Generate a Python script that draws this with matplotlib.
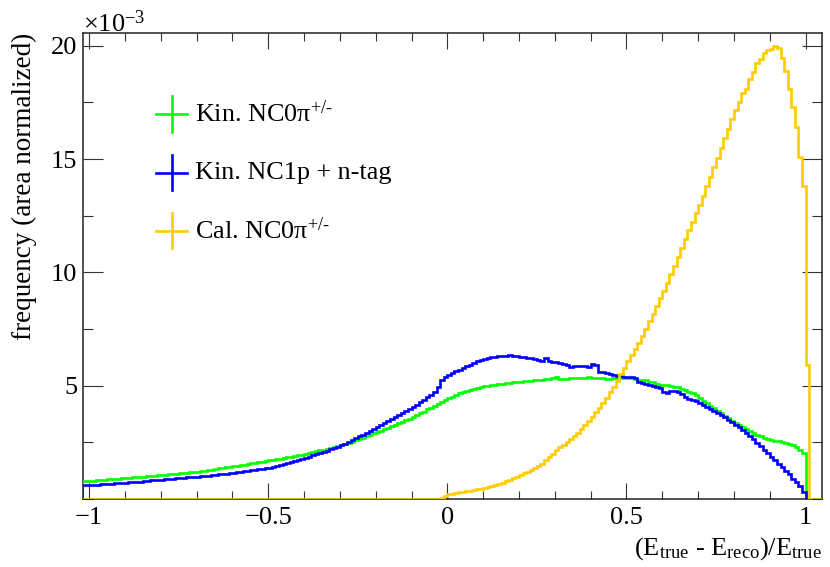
import numpy as np
import matplotlib
matplotlib.use("Agg")
import matplotlib.pyplot as plt
from matplotlib.ticker import MultipleLocator

plt.rcParams['font.family'] = ['Liberation Serif', 'DejaVu Serif']
plt.rcParams['mathtext.fontset'] = 'custom'
plt.rcParams['mathtext.rm'] = 'Liberation Serif'
plt.rcParams['mathtext.it'] = 'Liberation Serif:italic'
plt.rcParams['mathtext.bf'] = 'Liberation Serif:bold'

# bin edges: -1.02 .. 1.05, width 0.01
edges = np.round(np.arange(-1.02, 1.0501, 0.01), 2)

# values in units of 1e-3 (area normalized)
kin_nc0pi = [
    0.79, 0.80,
    0.80, 0.81, 0.82, 0.84, 0.84, 0.86, 0.87, 0.88, 0.90, 0.91,
    0.92, 0.93, 0.95, 0.96, 0.97, 0.99, 1.00, 1.02, 1.03, 1.04,
    1.05, 1.07, 1.08, 1.10, 1.12, 1.13, 1.14, 1.16, 1.17, 1.19,
    1.21, 1.23, 1.25, 1.28, 1.30, 1.33, 1.35, 1.37, 1.40, 1.43,
    1.45, 1.47, 1.50, 1.52, 1.55, 1.57, 1.60, 1.62, 1.65, 1.68,
    1.70, 1.73, 1.75, 1.78, 1.81, 1.84, 1.87, 1.90, 1.93, 1.96,
    1.99, 2.02, 2.06, 2.10, 2.14, 2.17, 2.21, 2.25, 2.29, 2.33,
    2.37, 2.42, 2.47, 2.53, 2.59, 2.65, 2.71, 2.77, 2.83, 2.89,
    2.95, 3.01, 3.08, 3.14, 3.21, 3.27, 3.34, 3.41, 3.48, 3.55,
    3.62, 3.70, 3.78, 3.86, 3.95, 4.03, 4.11, 4.19, 4.27, 4.35,
    4.45, 4.52, 4.59, 4.66, 4.72, 4.77, 4.82, 4.87, 4.91, 4.95,
    4.98, 5.00, 5.03, 5.05, 5.07, 5.09, 5.11, 5.13, 5.14, 5.16,
    5.18, 5.19, 5.21, 5.22, 5.23, 5.25, 5.27, 5.30, 5.31, 5.33,
    5.38, 5.29, 5.28, 5.31, 5.33, 5.33, 5.36, 5.32, 5.35, 5.38,
    5.36, 5.34, 5.33, 5.35, 5.31, 5.30, 5.33, 5.34, 5.32, 5.35,
    5.36, 5.33, 5.28, 5.25, 5.21, 5.23, 5.18, 5.14, 5.09, 5.05,
    5.03, 5.01, 4.99, 4.96, 4.92, 4.87, 4.81, 4.74, 4.66, 4.58,
    4.45, 4.34, 4.23, 4.12, 4.00, 3.89, 3.78, 3.67, 3.56, 3.45,
    3.35, 3.26, 3.17, 3.08, 2.99, 2.91, 2.84, 2.77, 2.71, 2.66,
    2.62, 2.58, 2.55, 2.51, 2.47, 2.42, 2.36, 2.28, 2.18, 2.03,
    0.0, 0.0, 0.0, 0.0, 0.0,
]

kin_nc1p = [
    0.60, 0.61,
    0.62, 0.63, 0.63, 0.65, 0.66, 0.66, 0.68, 0.69, 0.70, 0.71,
    0.70, 0.73, 0.75, 0.76, 0.77, 0.79, 0.80, 0.82, 0.83, 0.84,
    0.85, 0.87, 0.88, 0.89, 0.91, 0.92, 0.93, 0.95, 0.96, 0.97,
    0.98, 1.00, 1.01, 1.03, 1.05, 1.07, 1.08, 1.10, 1.12, 1.14,
    1.16, 1.18, 1.20, 1.22, 1.25, 1.27, 1.29, 1.31, 1.34, 1.36,
    1.38, 1.41, 1.45, 1.49, 1.53, 1.57, 1.62, 1.67, 1.72, 1.77,
    1.82, 1.87, 1.92, 1.97, 2.02, 2.08, 2.13, 2.19, 2.24, 2.30,
    2.36, 2.44, 2.52, 2.60, 2.68, 2.76, 2.84, 2.92, 3.00, 3.08,
    3.16, 3.25, 3.34, 3.43, 3.52, 3.61, 3.70, 3.79, 3.88, 3.97,
    4.05, 4.15, 4.26, 4.37, 4.49, 4.61, 4.74, 4.92, 5.25, 5.38,
    5.47, 5.55, 5.63, 5.71, 5.78, 5.86, 5.93, 6.00, 6.07, 6.13,
    6.18, 6.22, 6.25, 6.27, 6.30, 6.33, 6.31, 6.35, 6.33, 6.30,
    6.28, 6.25, 6.23, 6.20, 6.17, 6.12, 6.08, 6.20, 6.10, 6.05,
    6.03, 6.00, 5.96, 5.90, 5.84, 5.87, 5.85, 5.88, 5.86, 5.84,
    5.96, 5.92, 5.62, 5.60, 5.56, 5.52, 5.48, 5.44, 5.42, 5.40,
    5.38, 5.37, 5.34, 5.15, 5.12, 5.08, 5.02, 4.97, 4.94, 4.91,
    4.70, 4.68, 4.75, 4.77, 4.72, 4.62, 4.52, 4.43, 4.38, 4.32,
    4.24, 4.15, 4.06, 3.98, 3.88, 3.80, 3.70, 3.60, 3.50, 3.40,
    3.28, 3.16, 3.03, 2.90, 2.77, 2.63, 2.48, 2.33, 2.18, 2.02,
    1.86, 1.72, 1.56, 1.40, 1.25, 1.10, 0.90, 0.75, 0.55, 0.30,
    0.0, 0.0, 0.0, 0.0, 0.0,
]

cal_nc0pi = [0.0] * 99 + [
    0.02, 0.05, 0.12,
    0.20, 0.23, 0.26, 0.29, 0.31, 0.34, 0.37, 0.39, 0.42, 0.45,
    0.48, 0.52, 0.56, 0.61, 0.66, 0.72, 0.78, 0.85, 0.92, 0.99,
    1.06, 1.13, 1.21, 1.29, 1.37, 1.46, 1.56, 1.70, 1.85, 2.00,
    2.15, 2.28, 2.40, 2.52, 2.64, 2.78, 2.93, 3.10, 3.27, 3.45,
    3.63, 3.83, 4.03, 4.24, 4.46, 4.70, 4.95, 5.22, 5.50, 5.80,
    6.08, 6.35, 6.62, 6.90, 7.20, 7.52, 7.85, 8.18, 8.52, 8.86,
    9.20, 9.55, 9.92, 10.30, 10.70, 11.08, 11.47, 11.85, 12.22, 12.60,
    12.97, 13.39, 13.81, 14.23, 14.65, 15.07, 15.49, 15.91, 16.33, 16.75,
    17.15, 17.50, 17.90, 18.10, 18.55, 18.85, 19.25, 19.40, 19.70, 19.80,
    19.85, 19.97, 19.92, 19.45, 18.90, 18.10, 17.30, 16.40, 15.10, 13.80,
    5.90, 0.0, 0.0, 0.0, 0.0,
]

labels = [r"Kin. NC0π$^{\text{+/-}}$", "Kin. NC1p + n-tag", r"Cal. NC0π$^{\text{+/-}}$"]
colors = ['#00ff00', '#0000ff', '#ffcc00']
series = [kin_nc0pi, kin_nc1p, cal_nc0pi]

fig = plt.figure(figsize=(8.3, 5.67), dpi=100)
ax = fig.add_axes([0.1, 0.12, 0.89, 0.822])

# histograms on top of the frame, like ROOT draws them
for vals, c in zip(series, colors):
    ax.stairs(vals, edges, color=c, linewidth=1.9, zorder=3)

ax.set_xlim(-1.017, 1.045)
ax.set_ylim(0, 20.57)

ax.xaxis.set_major_locator(MultipleLocator(0.5))
ax.xaxis.set_minor_locator(MultipleLocator(0.1))
ax.yaxis.set_major_locator(MultipleLocator(5))
ax.yaxis.set_minor_locator(MultipleLocator(2.5))
ax.set_xticks([-1, -0.5, 0, 0.5, 1])
ax.set_xticklabels(["\u22121", "\u22120.5", "0", "0.5", "1"])
ax.set_yticks([5, 10, 15, 20])
ax.set_yticklabels(["5", "10", "15", "20"])

ax.tick_params(axis='both', which='both', direction='in', top=True, right=True,
               labelsize=19, width=0.8, color='#333333')
ax.tick_params(axis='x', which='major', length=11.5, pad=6)
ax.tick_params(axis='x', which='minor', length=5.5)
ax.tick_params(axis='y', which='major', length=14.5, pad=4)
ax.tick_params(axis='y', which='minor', length=7)
for s in ax.spines.values():
    s.set_linewidth(1.1)
    s.set_color('#222222')

ax.set_ylabel("frequency (area normalized)", fontsize=19.5, loc='top', labelpad=10)
ax.set_xlabel(r"(E$_{\mathrm{true}}$ - E$_{\mathrm{reco}}$)/E$_{\mathrm{true}}$",
              fontsize=19, loc='right', labelpad=4)

fig.text(0.1, 1 - 32 / 567, r"×10$^{-3}$", fontsize=19, ha='left', va='baseline')

# legend drawn as crosses like the ROOT error-bar markers
lx, hw, hh = 0.1204, 0.021, 0.0376
for yy, lab, c in zip([0.826, 0.700, 0.575], labels, colors):
    ax.plot([lx - hw, lx + hw], [yy, yy], color=c, lw=1.9, transform=ax.transAxes)
    ax.plot([lx, lx], [yy - hh, yy + hh], color=c, lw=1.9, transform=ax.transAxes)
    ax.text(0.1516, yy, lab, fontsize=18.8, va='center', ha='left',
            transform=ax.transAxes)

fig.savefig("out.png", dpi=100)
